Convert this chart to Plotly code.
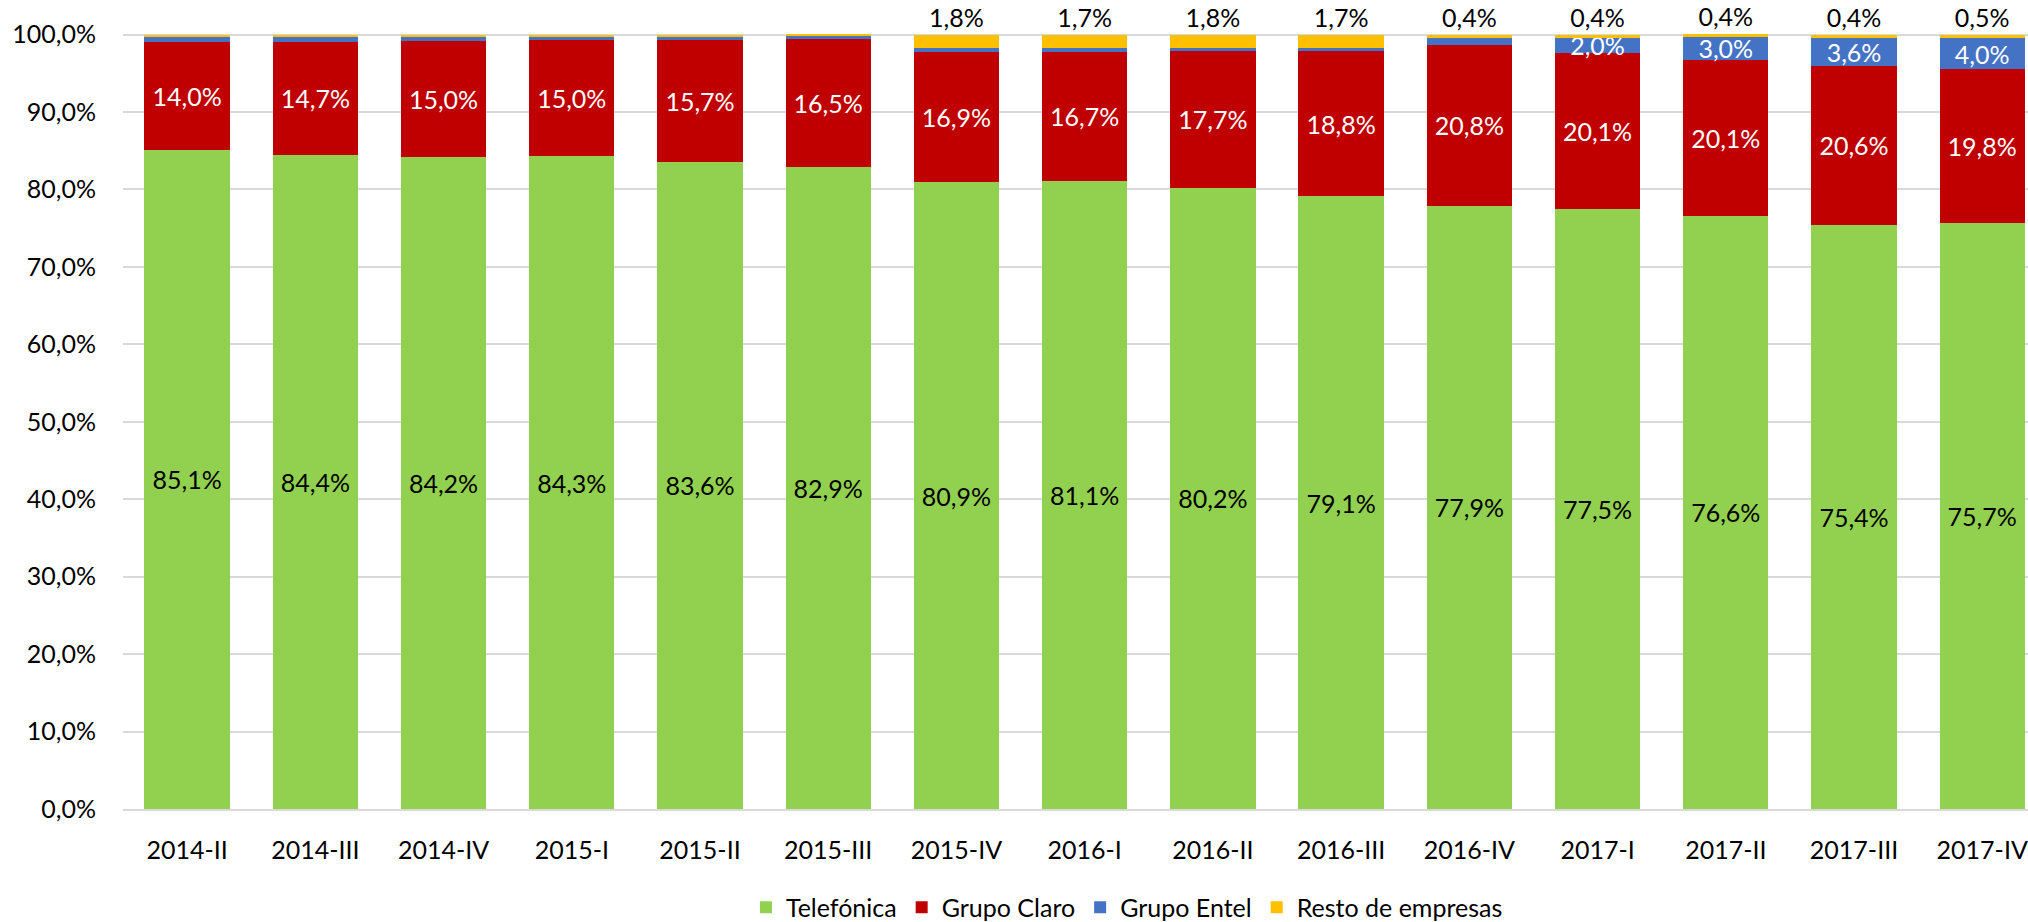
import plotly.graph_objects as go

periodos = ["2014-II", "2014-III", "2014-IV", "2015-I", "2015-II", "2015-III", "2015-IV",
            "2016-I", "2016-II", "2016-III", "2016-IV", "2017-I", "2017-II", "2017-III", "2017-IV"]
telefonica = [85.1, 84.4, 84.2, 84.3, 83.6, 82.9, 80.9, 81.1, 80.2, 79.1, 77.9, 77.5, 76.6, 75.4, 75.7]
claro = [14.0, 14.7, 15.0, 15.0, 15.7, 16.5, 16.9, 16.7, 17.7, 18.8, 20.8, 20.1, 20.1, 20.6, 19.8]
entel = [0.7, 0.6, 0.6, 0.5, 0.5, 0.5, 0.4, 0.5, 0.3, 0.4, 0.9, 2.0, 3.0, 3.6, 4.0]
resto = [0.2, 0.3, 0.2, 0.2, 0.2, 0.1, 1.8, 1.7, 1.8, 1.7, 0.4, 0.4, 0.4, 0.4, 0.5]

# which points carry a data label in the original chart
entel_labeled = [False] * 11 + [True] * 4
resto_labeled = [False] * 6 + [True] * 9

FONT = "Lato"
FS = 25


def pct(v):
    return f"{v:.1f}%".replace(".", ",")


def frac(vals):
    return [v / 100 for v in vals]


fig = go.Figure()
fig.add_trace(go.Bar(
    name="Telefónica", x=periodos, y=frac(telefonica),
    text=[pct(v) for v in telefonica], texttemplate="%{text}",
    textposition="inside", insidetextanchor="middle", textangle=0,
    insidetextfont=dict(color="black", family=FONT, size=FS),
    marker=dict(color="#92D050", line=dict(width=0)),
))
fig.add_trace(go.Bar(
    name="Grupo Claro", x=periodos, y=frac(claro),
    text=[pct(v) for v in claro], texttemplate="%{text}",
    textposition="inside", insidetextanchor="middle", textangle=0,
    insidetextfont=dict(color="white", family=FONT, size=FS),
    marker=dict(color="#C00000", line=dict(width=0)),
))
fig.add_trace(go.Bar(
    name="Grupo Entel", x=periodos, y=frac(entel),
    text=[pct(v) if s else "" for v, s in zip(entel, entel_labeled)], texttemplate="%{text}",
    textposition="inside", insidetextanchor="middle", textangle=0,
    insidetextfont=dict(color="white", family=FONT, size=FS),
    marker=dict(color="#4472C4", line=dict(width=0)),
))
fig.add_trace(go.Bar(
    name="Resto de empresas", x=periodos, y=frac(resto),
    text=[pct(v) if s else "" for v, s in zip(resto, resto_labeled)], texttemplate="%{text}",
    textposition="outside", textangle=0, cliponaxis=False,
    outsidetextfont=dict(color="black", family=FONT, size=FS),
    marker=dict(color="#FFC000", line=dict(width=0)),
))

fig.update_layout(
    width=2028, height=922,
    barmode="stack", bargap=0.335,
    separators=", ",
    paper_bgcolor="white", plot_bgcolor="white",
    margin=dict(l=123, r=0, t=33, b=113, autoexpand=False),
    font=dict(family=FONT, size=FS, color="black"),
    uniformtext=dict(minsize=FS, mode="show"),
    legend=dict(orientation="h", x=0.527, xanchor="center", y=-0.127, yanchor="middle",
                font=dict(family=FONT, size=FS), itemwidth=30, traceorder="normal"),
    showlegend=True,
)
fig.update_xaxes(range=[-0.5, 14.357], showgrid=False, showline=True, linecolor="#D9D9D9",
                 linewidth=2, ticks="", ticklabelstandoff=18, automargin=False,
                 tickfont=dict(family=FONT, size=FS, color="black"))
fig.update_yaxes(range=[0, 1.002], tick0=0, tickformat=".1%", dtick=0.1, showgrid=True,
                 gridcolor="#D9D9D9", gridwidth=2, zeroline=False, showline=False, ticks="",
                 ticklabelstandoff=26, automargin=False,
                 tickfont=dict(family=FONT, size=FS, color="black"))

fig.write_html("out.html", config={"displayModeBar": False},
               post_script="document.body.style.margin='0';document.body.style.overflow='hidden';")
